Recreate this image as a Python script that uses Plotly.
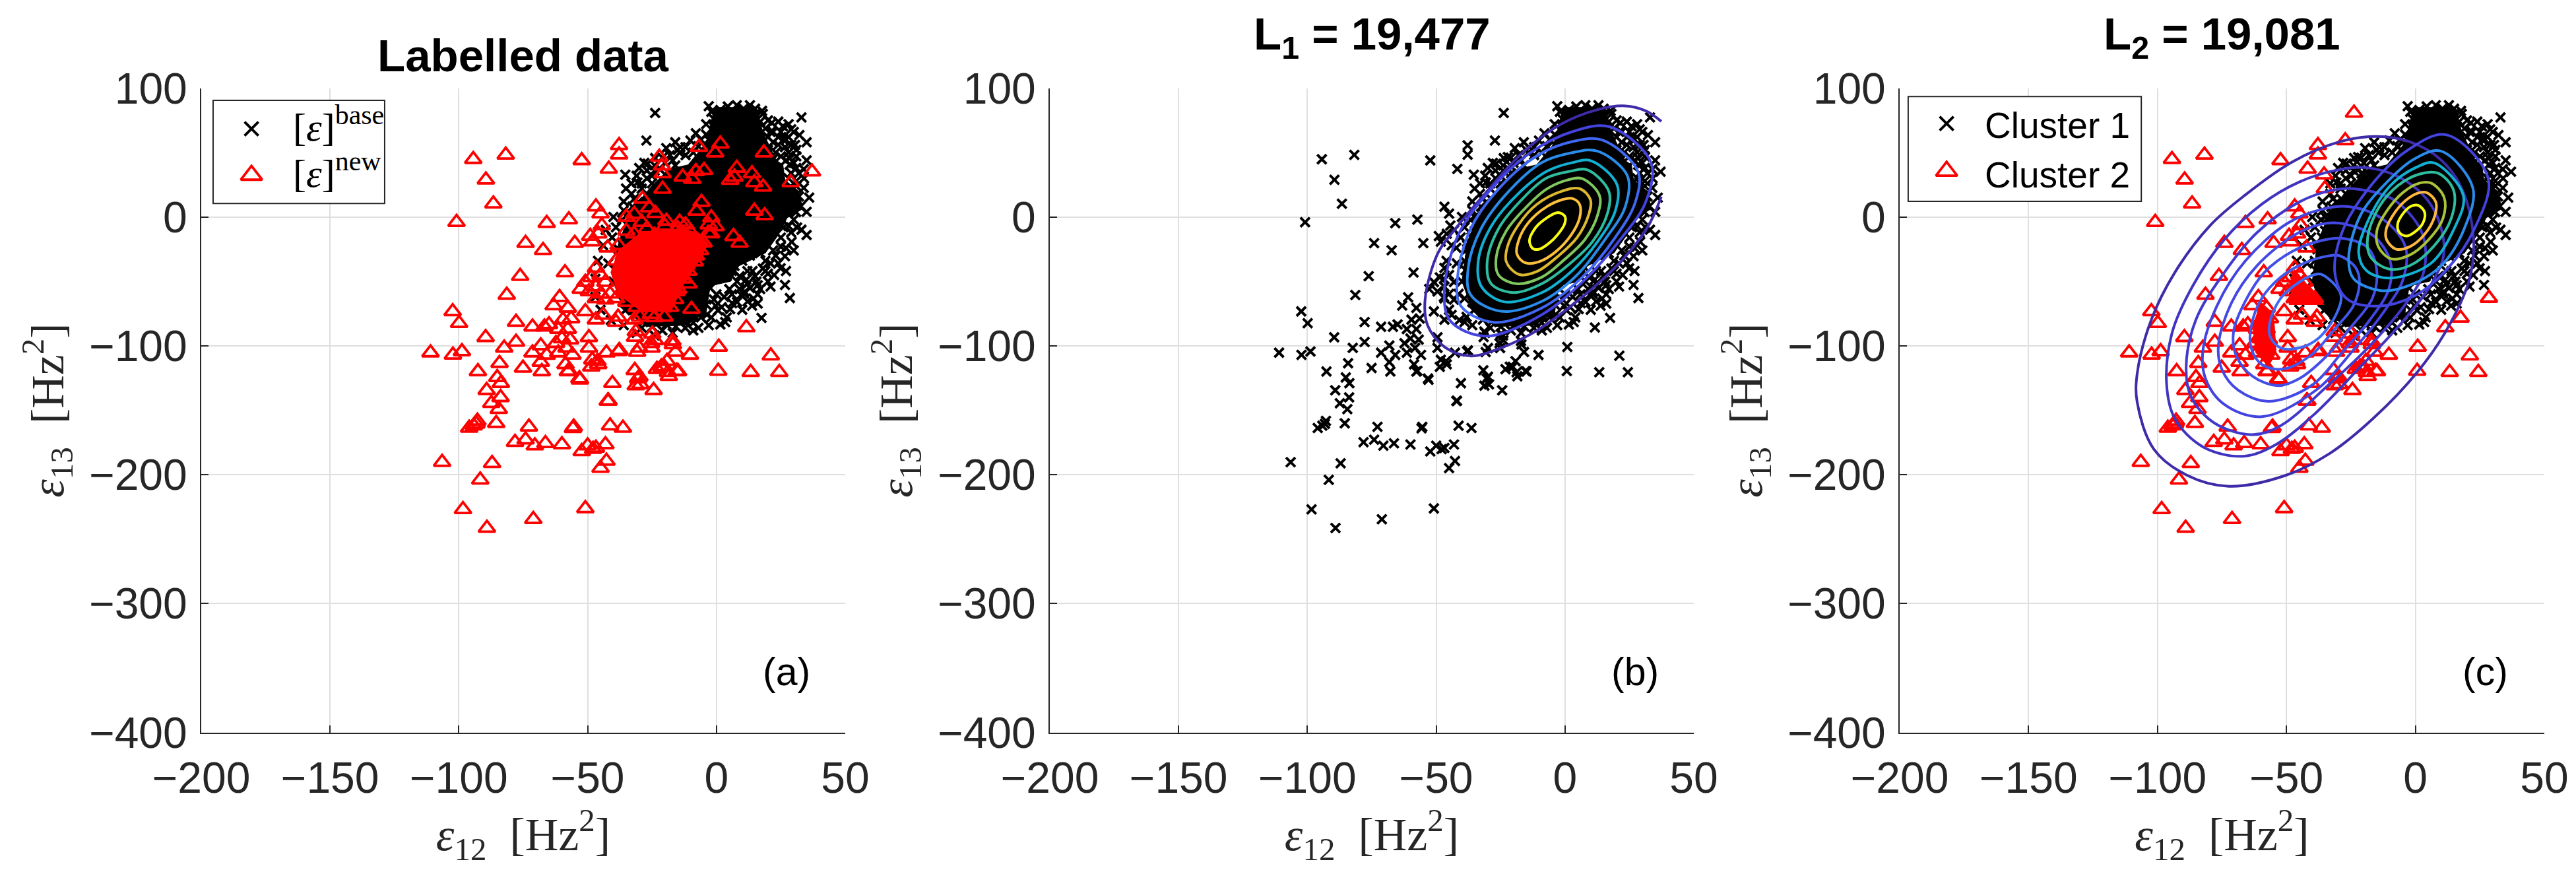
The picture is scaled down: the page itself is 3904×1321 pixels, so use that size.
import plotly.graph_objects as go

# puntos: (e12, e13)
# rojo en (a) y rojo en (c)
new_pts = [
    (-94.4, 44.8), (-81.8, 48.2), (-89.5, 28.9), (-86.6, 10.3), (-100.9, -4.1), (-52.3, 43.9), (-37.8, 55.6), (-37.8, 48.3),
    (-41.8, 37.3), (-46.8, 8), (-45, 2.6), (-44.5, -6.6), (-45.9, -13), (-49, -14.8), (-55, -20.3), (-48.2, -19.2), (-42.2, -23.9),
    (-57.3, -2), (-65.9, -4.8), (-74.1, -20.3), (-67.3, -25.8), (-76.2, -45.9), (-81.4, -60.5), (-58.8, -43.1), (-46.8, -39.5),
    (-45, -45), (-48.6, -46.8), (-43.1, -50.5), (-46.8, -54.1), (-50.9, -50.5), (-52.7, -55.9), (-49.5, -57.8), (-45, -59.6),
    (-41.3, -59.6), (-39, -63.2), (-43.1, -64.2), (-46.8, -63.2), (-50.9, -73.3), (-46.8, -79.7), (-39, -81.5), (-44, -76),
    (-60.9, -62.3), (-63.2, -68.7), (-57.7, -70.6), (-59.6, -79.7), (-56.4, -78.8), (-61.4, -87), (-57.7, -87), (-60, -94.3),
    (-56.8, -95.2), (-62.3, -98), (-58.2, -101.6), (-61.4, -105.3), (-55.9, -107), (-58.6, -114.4), (-77.8, -81.5), (-71.4, -85.2),
    (-66.8, -85.2), (-65, -83.4), (-77.8, -97), (-68.2, -99.8), (-71.4, -105.3), (-65.9, -107.1), (-68.2, -112.6), (-75.1, -117.2),
    (-67.8, -119.9), (-57.7, -119.9), (-53.2, -125.4), (-49.5, -101.6), (-48.2, -110.8), (-45.9, -114.4), (-48.6, -116.3),
    (-37.7, -103.5), (-42.7, -105.3), (-49.5, -93.4), (-31.3, -88.8), (-30.8, -104.9), (-25.4, -98), (-17.1, -96.2), (-10.3, -107.1),
    (-24.9, -90.7), (-38.2, -77.6), (-20.3, -116.3), (-23.1, -118.1), (-18.5, -123.6), (-14.9, -119.9), (-31.7, -119), (-30.4, -125.4),
    (-31.3, -130.9), (-24.4, -134.5), (-40.4, -129), (-42.2, -142.8), (-41.3, -162), (-36.3, -163.8), (-50, -177.5), (-52.3, -182),
    (-43.1, -176.6), (-46.8, -179.3), (-42.7, -189.4), (-45, -194.9), (-50.9, -226.2), (-111, -105.3), (-102.3, -107), (-98.8, -104.4),
    (-102.4, -73.3), (-99.9, -82.4), (-89.6, -93.4), (-82.4, -101.6), (-84.2, -113.5), (-92.6, -119.9), (-85.1, -124.5), (-83.7, -129),
    (-89.2, -134.5), (-87.4, -144.6), (-83.8, -140), (-84.5, -149.2), (-85.5, -160.1), (-92.8, -158.3), (-96, -163.8), (-94.2, -162),
    (-93.2, -160.5), (-72.8, -162.9), (-55.4, -162.9), (-78.2, -174.8), (-74.1, -172.9), (-70.5, -177.5), (-66.4, -175.7), (-60, -176.6),
    (-106.5, -190.3), (-87.1, -191.2), (-91.7, -204), (-98.4, -226.9), (-89.1, -241.4), (-71.1, -234.6), (-53, -126.4), (-57.3, -119.5),
    (0.9, -100.9), (0.7, -119.6), (13.3, -120.5), (21.1, -107.7), (24.4, -120.5), (11.6, -85.8), (-15.4, -119.6), (-19.2, -111.9),
    (-21.4, -116.2), (-18.8, -120.5), (-29.5, -129.9), (-29.9, -123.9), (-41.9, -142.7), (-55.7, -164), (-47.9, -180.2), (-46.2, -111.9),
    (-38, -104.3), (-31.6, -93.2), (-29.9, -101.7), (-25.2, -101.7), (-23.9, -95.7), (-15.9, -104.8), (-16.9, -99),
]
# negro en (a) y rojo en (c)
moved_pts = [(-23.8, 80.7), (-27.2, 59.3), (-35.4, 32.8), (-35.1, 22.1), (28.5, -62.9), (17.5, -78.3)]
# rojo en (a) y negro en (c)
shared_pts = [
    (-6.8, 54.2), (1.5, 56.8), (-0.5, 49.9), (18.4, 49.9), (-22.2, 46.5), (-21.1, 39.7), (-20.9, 33.7), (-20.9, 21.7), (-13.1, 31.1),
    (-8, 35.4), (-9.4, 29.4), (-4.8, 36.3), (7.9, 38), (7, 31.1), (5.3, 28.6), (13.8, 33.7), (14.7, 26.8), (18.1, 23.4), (37.1, 35.1),
    (28.8, 26.8), (-28.7, 14), (-26.1, 7.2), (-5.8, 11.5), (-7.7, 4.6), (14.7, 4.6), (18.7, 1.2), (-14.3, -3.9), (-19.4, -3.1),
    (-23.7, 2.9), (-2, -0.5), (-0.3, -7.4), (6.6, -15), (9, -20.2), (-3.2, -12.5), (-6.7, -19.3), (-8.4, -34.7), (-10.9, -51.8),
    (-9.7, -71.5), (-15.6, -57.8), (-35, 0), (-31.9, 2.2), (-35, -10.8), (-31.9, -79.7), (-29.7, -77.6), (-25.5, -75.4), (-20.2, -77.6),
    (-21.2, -66.8), (-14.9, -56), (-6.4, -25.9), (-2.1, -12.9), (-30, -20), (-26, -32), (-33, -38), (-22, -48), (-30, -55), (-18, -30),
    (-12, -22), (-24, -14), (-34, -28), (-27, -62), (-18, -44), (-14, -36),
    (-38, -22), (-36, -30), (-39, -34), (-37, -44), (-36, -52), (-33, -60), (-35, -66), (-31, -70), (-26, -70), (-24, -78), (-18, -70),
    (-16, -64), (-13, -48), (-11, -42), (-8, -30), (-5, -20), (-10, -12), (-15, -9), (-20, -7), (-27, -9), (-32, -13), (-29, -4),
    (-24, -20), (-17, -18), (-11, -30), (-20, -38), (-28, -44), (-24, -56), (-19, -60), (-32, -30), (-3, -6), (-12, -6),
]
# negro en (a) y en (c)
base_pts = [
    (-19.5, 53.4), (-10.1, 59.3), (-14.3, 49.9), (-12, 54.2), (-2, 81.6), (1.5, 83), (4.4, 85.8), (7.9, 86.7), (10.5, 84), (13, 86.7),
    (15, 84), (17.7, 82.4), (33, 77.3), (21.5, 73), (25.8, 70.4), (32.2, 63.6), (19, 68.7), (26.6, 54.2), (30.5, 55.9), (28.4, 45.7),
    (28.4, 40.5), (33.9, 37.1), (33.9, 22.6), (32.6, 8), (30.9, 3.8), (33, -9.9), (31.3, -8.2), (29.2, -19.3), (26.6, -30.4),
    (24.9, -39.8), (22.4, -45), (26.6, -52.7), (15.5, -50.1), (13, -55.2), (16, -67.2), (13.8, -68.9), (12.1, -65.5), (9.6, -60.4),
    (5.3, -71.5), (-0.3, -68.9), (-3.7, -75.8), (1.5, -83.4), (-2.4, -55.2), (-26.7, 41.4), (-23.8, 45.7), (-14, 54.2), (-30.7, 26.8),
    (-32.6, 8), (-36.6, -2.2), (-40.5, -15.9), (-38, -25), (-34, -56), (-32.2, -68.7), (-28.5, -81.5), (-31.3, -76), (-35.4, -72.4),
    (-38.6, -41.3), (-36.3, -15.7), (-34, -1.1), (-30.4, 11.7), (-24.9, -85.2), (-15.8, -85), (-12.1, -86.1), (-19.4, -83.4), (3.4, -81.5),
    (0.6, -72.4), (6.1, -66.9), (10.7, -59.6), (14.4, -63.2), (11.6, -48.6), (17, -55.9), (20, -50), (25, -23), (28, -7), (30, 12),
    (31, 28), (27, 60), (24, 62), (20, 75), (30, 66), (22, 45), (-8, 65), (-4, 72), (-6, 60), (-17, 44), (-22, 37), (-27, 30), (-33, 18),
    (-1, 76), (3, 80), (6, 82), (12, 80), (17, 74), (28, 50), (32, 16), (24, -36), (19, -42), (8, -66), (-6, -78), (-9, -82), (-21, -88),
    (-29, -86), (-36, -66), (-40, -50), (-42, -36), (-39, -8), (-29, 22), (-25, 32), (-20, 42), (-12, 48), (-4, 64),
    (-16, 58), (-24, 36), (-28, 42), (-31, 32), (-36, 12), (-40, 0), (-43, -10), (-44, -22), (-46, -34), (-47, -48), (-47, -62), (-45, -72),
    (-41, -80), (-36, -84), (-31, -90), (-24, -92), (-17, -90), (-9, -88), (-3, -84), (4, -78), (10, -72), (16, -60), (21, -54), (27, -42),
    (30, -26), (35, -14), (35, 4), (36, 15), (34, 30), (35, 44), (31, 47), (35, 58), (28, 72), (24, 74), (22, 66), (18, 80), (-3, 86), (-1, 70),
    (6, -42), (9, -46), (12, -42), (15, -46), (18, -40), (21, -36), (23, -30), (20, -44), (16, -53), (12, -52), (8, -50), (5, -56), (9, -56),
    (3, -62), (6, -60), (0, -60), (-1, -64), (2, -70), (11, -58), (19, -34), (22, -26), (27, -24), (25, -16), (29, -12), (26, -8), (30, -2),
    (-2, -78), (-4, -68), (-7, -86), (14, -42), (4, -46), (7, -38), (10, -34), (13, -30), (17, -28),
    (20, 62), (22, 58), (24, 56), (20, 52), (23, 50), (25, 47), (27, 44), (21, 66), (25, 66), (28, 62), (29, 56), (31, 52), (30, 42), (31, 38),
    (29, 34), (32, 34), (28, 30), (31, 24), (29, 68), (26, 60),
    (-30, 38), (-27, 36), (-24, 40), (-21, 46), (-18, 48), (-15, 52), (-25, 26), (-29, 26), (-33, 26), (-32, 14), (-36, 5), (-9, 50), (-7, 55),
    (-16, 40), (-3, 60),
]

# zonas de sobreposicion total (contornos de las manchas)
dense_black = [
    (-0.7, 85), (15.5, 85), (16.8, 74.7), (18, 66), (23.2, 44), (25.8, 40.5), (26.6, 28.6), (32, 20), (33.5, 6.3), (27.5, -0.5), (24, -14),
    (19, -27.9), (8.7, -38), (5.3, -50), (-2.4, -53.5), (-4, -74), (-11.8, -84), (-27, -85), (-36, -72), (-40, -50), (-38, -20), (-33, 5),
    (-26, 22), (-18.6, 37), (-11, 40.5), (-4, 57.6),
]
dense_red = [
    (-38, -26), (-30, -13), (-14, -9), (-6.7, -12.5), (-3.2, -21), (-8.4, -40), (-12.7, -52), (-17.8, -74), (-30, -72), (-38, -60), (-41, -43),
]
dense_red_c1 = [(-46.8, -41), (-35.5, -68), (-49, -68)]
dense_red_c2 = [(-60, -66), (-55, -75), (-54, -105), (-57, -116), (-62, -105), (-63, -85)]

# curvas de nivel, panel (b), de afuera hacia adentro
b_level_open = [
    (37.4, 15.7), (32.2, -7.4), (22.4, -33), (7.7, -60.4), (-12, -89.4), (-26.7, -103), (-36.6, -107.9), (-46.4, -101.4), (-53.3, -84.3),
    (-54.3, -63.8), (-49.3, -27.9), (-42.5, -9.1), (-31.7, 16.6), (-16.9, 49.1), (-2.2, 71.3), (12.6, 83.3), (23.4, 86.2), (31.3, 82.4), (37.4, 74.2),
]
b_levels = [
    [(17.5, 69.9), (33.4, 42.2), (31.3, 11.5), (21.4, -17.6), (8.7, -46.7), (-9, -75.8), (-30.7, -92.5), (-44.4, -80.9), (-46.9, -60.4), (-41.5, -14.2), (-28.7, 21.7), (-14, 49.1), (2.8, 66.2)],
    [(14.5, 59.7), (28.3, 35.4), (27.3, 11.5), (19.5, -15.9), (6.7, -46.7), (-9, -70.6), (-27.7, -81.7), (-40.5, -68.9), (-41.7, -46.7), (-36.6, -9.1), (-25.8, 21.7), (-11, 47.4), (2.8, 58.5)],
    [(12.6, 51.1), (24.2, 32), (23.4, 8), (15.5, -17.6), (4.7, -45), (-9, -65.5), (-24.8, -73.2), (-36.6, -60.4), (-37.6, -39.8), (-32.6, -9.1), (-21.8, 20), (-9, 42.2), (2.8, 49.9)],
    [(10.1, 43.6), (20.2, 25.1), (19.5, 4.6), (12.6, -19.3), (2.8, -41.6), (-9, -58.7), (-23.8, -65.8), (-32.6, -53.5), (-33.6, -33), (-28.7, -7.4), (-18.9, 16.6), (-7.1, 35.4), (2.8, 42.2)],
    [(8.7, 36.6), (17, 20), (16.5, 2.9), (10.6, -19.3), (1.8, -36.4), (-9, -51.8), (-19.9, -58.7), (-28.7, -51.8), (-30.2, -34.7), (-25.8, -9.1), (-16.9, 13.2), (-7.1, 30.3), (1.8, 35.4)],
    [(6.7, 29.8), (13.4, 16.6), (12.6, 1.2), (7.7, -17.6), (-0.2, -33), (-9, -46.7), (-18.9, -51.8), (-25.8, -45), (-26.7, -31.3), (-22.8, -10.8), (-14.9, 8), (-7.1, 21.7), (0.8, 28.6)],
    [(5.7, 22), (9.9, 13.2), (9.1, 1.2), (4.7, -15.9), (-2.2, -29.6), (-11, -42.4), (-17.9, -44.6), (-22.8, -34.7), (-22.3, -22.7), (-17.9, -5.6), (-11, 9.7), (-1.2, 20)],
    [(2.8, 14.4), (5.7, 9.7), (5.7, -0.5), (2.3, -14.2), (-3.6, -27), (-10, -34.7), (-15.4, -35.6), (-18.7, -28.7), (-17.9, -17.6), (-14, -3.9), (-7.1, 8), (-0.7, 13.7)],
    [(-2.7, 3.4), (0, 0.3), (-0.2, -5.6), (-2.7, -13.3), (-6.1, -20.2), (-10, -25), (-12.5, -24.5), (-13.8, -18.5), (-12, -9.9), (-8.1, -2.2)],
]

# curvas de nivel, panel (c): cluster 2 (afuera hacia adentro) y cluster 1
c_levels_2 = [
    [(-14.9, 62.5), (-2.1, 58.3), (9.8, 44.6), (18, 22), (22.5, -15), (21, -48), (12, -88), (0.9, -120), (-16.2, -156), (-33.3, -183.6), (-50.4, -200.6), (-72.3, -209), (-88.7, -200.3), (-101.5, -180), (-107.9, -143.7), (-107.9, -121.7), (-102.4, -79.7), (-93.3, -43.1), (-79.6, -6.6), (-65.9, 17.2), (-47.7, 42.8), (-29.5, 58.3)],
    [(-18.5, 38.2), (-3.9, 28.2), (7, 6.2), (11.1, -26.7), (6.1, -52.3), (-6.7, -85.2), (-22.2, -118.1), (-38.6, -152), (-54.1, -176.6), (-66.8, -185.7), (-82.4, -178.4), (-93.3, -156.5), (-96.5, -129.1), (-94.2, -88.8), (-86, -52.3), (-74.1, -17.5), (-59.6, 9.9), (-45, 27.2), (-30.4, 36.4)],
    [(-23.1, 21.8), (-8.5, 13.5), (2.5, -12.1), (3.4, -41.3), (-3, -65.1), (-17.6, -99.8), (-34, -130.9), (-52.3, -162), (-63.2, -168.9), (-77.8, -160.1), (-86.9, -140), (-88.9, -116.3), (-85.1, -79.7), (-74.1, -43.1), (-61.4, -12.1), (-45, 11.7), (-32.2, 20.8)],
    [(-25.8, 8), (-13, -1.1), (-3.9, -23), (-4.8, -48.6), (-11.2, -70.6), (-24.9, -105.3), (-38.6, -134.5), (-59.6, -155), (-74.1, -145.5), (-81.4, -125.4), (-82.4, -103.5), (-76.9, -68.7), (-65.9, -34), (-49.5, -4.8), (-35.8, 6.2)],
    [(-29.5, -4.8), (-16.7, -13.9), (-9.8, -34), (-10.3, -55.9), (-17.6, -79.7), (-28.5, -105.3), (-40.4, -130.9), (-56.8, -143.1), (-68.7, -134.5), (-75.1, -118.1), (-76.4, -99.8), (-71.4, -66.9), (-61.4, -37.7), (-46.8, -13.9), (-36.8, -5.7)],
    [(-28.5, -16.6), (-18.5, -23.9), (-15, -41.3), (-16.7, -63.2), (-24.9, -85.2), (-34.9, -108.9), (-45, -125.4), (-53.2, -130.9), (-63.2, -123.6), (-69.6, -107.1), (-70.5, -88.8), (-65.9, -65.1), (-58.6, -43.1), (-47.7, -26.7), (-36.8, -18.5)],
    [(-29.5, -30), (-23.1, -39.5), (-21.7, -50.5), (-24, -68.7), (-31.3, -87), (-40.4, -107.1), (-51.3, -118), (-59.6, -114.4), (-63.7, -101.6), (-63.7, -85.2), (-59.6, -63.2), (-52.3, -46.8), (-43.1, -35.8), (-34, -30.3)],
    [(-36.3, -44.6), (-29, -59.6), (-30.4, -74.2), (-37.7, -94.3), (-45, -101.6), (-52.3, -101.6), (-56.4, -92.5), (-56.4, -81.5), (-52.3, -63.2), (-45, -50.5), (-39.5, -45)],
]
c_levels_1 = [
    [(11.9, 63.8), (28.2, 30.2), (23, -8.8), (12.5, -40), (-0.5, -61.4), (-14.9, -69.2), (-26.6, -63.4), (-31.2, -43.9), (-28.6, -12.7), (-18.8, 20.5), (-3.1, 51.7)],
    [(9.9, 51.1), (22.3, 22.4), (19, -8.8), (9.9, -38), (-3.1, -53.6), (-13.6, -57.1), (-24, -47.8), (-25.9, -32.2), (-21.4, 1), (-12.3, 24.4), (-0.5, 44.9)],
    [(7.3, 41.9), (18.6, 16.6), (15.1, -8.8), (6, -36), (-9.7, -47.4), (-18.8, -41.9), (-22, -28), (-18.8, -4.9), (-9.7, 24.4), (0.8, 39)],
    [(8.8, 34), (14.8, 20.8), (13.9, -1.1), (7, -23), (-2.1, -37.7), (-10.3, -40.4), (-17.6, -30.3), (-18.5, -15.7), (-14, 8), (-6.7, 24.5), (1.6, 33.3)],
    [(6.1, 26.3), (11.1, 15.4), (10.7, -1.1), (5.2, -17.5), (-2.1, -29.4), (-9.4, -32.5), (-14.4, -23), (-14.9, -10.2), (-11.2, 4.4), (-4.8, 19), (1.6, 26.3)],
    [(4.3, 19), (7.9, 11.7), (7.5, 0.7), (3.4, -13.9), (-2.1, -23), (-7.6, -24.9), (-11.2, -17.5), (-11.4, -10.2), (-8.9, 0.7), (-3.9, 12.6), (1.1, 18.6)],
    [(1.1, 9), (3.6, 3.5), (2.9, -4.8), (-0.3, -11.7), (-3.5, -14.8), (-6.2, -12.1), (-6.9, -5.7), (-4.8, 2.6), (-1.6, 8.4)],
]

x_ticks = [-200, -150, -100, -50, 0, 50]
y_ticks = [-400, -300, -200, -100, 0, 100]
titulos = ["<b>Labelled data</b>", "<b>L<sub>1</sub> = 19,477</b>", "<b>L<sub>2</sub> = 19,081</b>"]
letras = ["(a)", "(b)", "(c)"]

ANCHO, ALTO = 3904, 1321
PANELES = [(305, 1281), (1591, 2567), (2879, 3856)]
COLORES_B = ["#4343df", "#3f68f3", "#2a8cea", "#12b1d3", "#2fbd9f", "#7fc85f", "#dcb92e", "#fcc03a", "#f9fb15"]
COLORES_C2 = ["#3d2ba8", "#4033c0", "#4138cc", "#4343df", "#4348e4", "#434ee8", "#4158ec", "#3f68f3"]
COLORES_C1 = ["#4343df", "#2a8cea", "#12b1d3", "#2fbd9f", "#a8c23c", "#fdb93f", "#f9fb15"]
TEXTO = "#262626"
SERIF = "Liberation Serif"
SANS = "Liberation Sans"


def puntos(fig, pts, n, tipo, size=14):
    if tipo == "x":
        marker = dict(symbol="x-thin", size=size, color="black", line=dict(color="black", width=4))
    else:
        marker = dict(symbol="triangle-up-open", size=size, color="red", line=dict(color="red", width=3.8))
    fig.add_trace(go.Scatter(
        x=[p[0] for p in pts], y=[p[1] for p in pts], mode="markers", marker=marker,
        xaxis=f"x{n}", yaxis=f"y{n}", showlegend=False, hoverinfo="skip",
    ))


def mancha(fig, pts, n, color):
    fig.add_trace(go.Scatter(
        x=[p[0] for p in pts] + [pts[0][0]], y=[p[1] for p in pts] + [pts[0][1]],
        mode="lines", fill="toself", fillcolor=color, line=dict(color=color, width=1),
        xaxis=f"x{n}", yaxis=f"y{n}", showlegend=False, hoverinfo="skip",
    ))


def curva(fig, pts, n, color, cerrar=True):
    pts = pts + [pts[0]] if cerrar else pts
    fig.add_trace(go.Scatter(
        x=[p[0] for p in pts], y=[p[1] for p in pts], mode="lines",
        line=dict(color=color, width=4, shape="spline", smoothing=1),
        xaxis=f"x{n}", yaxis=f"y{n}", showlegend=False, hoverinfo="skip",
    ))


fig = go.Figure()

# ── (a) ──
mancha(fig, dense_black, 1, "black")
puntos(fig, base_pts + moved_pts, 1, "x")
mancha(fig, dense_red, 1, "red")
puntos(fig, new_pts + shared_pts, 1, "t", 22)

# ── (b) ──
mancha(fig, dense_black, 2, "black")
puntos(fig, base_pts + moved_pts + new_pts + shared_pts, 2, "x")
curva(fig, b_level_open, 2, "#3d2ba8", cerrar=False)
for nivel, color in zip(b_levels, COLORES_B):
    curva(fig, nivel, 2, color)

# ── (c) ──
mancha(fig, dense_black, 3, "black")
puntos(fig, base_pts + shared_pts, 3, "x")
mancha(fig, dense_red_c1, 3, "red")
mancha(fig, dense_red_c2, 3, "red")
puntos(fig, new_pts + moved_pts, 3, "t", 22)
for nivel, color in zip(c_levels_2, COLORES_C2):
    curva(fig, nivel, 3, color)
for nivel, color in zip(c_levels_1, COLORES_C1):
    curva(fig, nivel, 3, color)

# simbolos de las leyendas, mas grandes que los puntos
puntos(fig, [(-180.5, 68.4)], 1, "x", 21)
puntos(fig, [(-180.5, 32.5)], 1, "t", 28)
puntos(fig, [(-181.8, 72.5)], 3, "x", 21)
puntos(fig, [(-181.8, 35.6)], 3, "t", 28)

layout = dict(
    width=ANCHO, height=ALTO, margin=dict(l=0, r=0, t=0, b=0),
    paper_bgcolor="white", plot_bgcolor="white", showlegend=False,
)
anotaciones = []
formas = []
eje_x = "<i>ε</i><sub>12</sub>  [Hz<sup>2</sup>]"
eje_y = "<i>ε</i><sub>13</sub>  [Hz<sup>2</sup>]"
for i, (izq, der) in enumerate(PANELES):
    n = i + 1
    sufijo = "" if n == 1 else str(n)
    comun = dict(
        showline=True, linecolor=TEXTO, linewidth=2, mirror=False, zeroline=False,
        showgrid=True, gridcolor="#dfdfdf", gridwidth=2, automargin=False,
        ticks="inside", ticklen=11, tickwidth=2, tickcolor=TEXTO,
        tickfont=dict(family=SANS, size=66, color=TEXTO),
    )
    layout["xaxis" + sufijo] = dict(
        comun, domain=[izq / ANCHO, der / ANCHO], range=[-200, 50], tickvals=x_ticks,
        anchor="y" + sufijo, ticklabelstandoff=10,
        title=dict(text=eje_x, font=dict(family=SERIF, size=70, color=TEXTO), standoff=0),
    )
    layout["yaxis" + sufijo] = dict(
        comun, domain=[1 - 1109.5 / ALTO, 1 - 133.5 / ALTO], range=[-400, 100], tickvals=y_ticks,
        anchor="x" + sufijo, ticklabelstandoff=6,
        title=dict(text=eje_y, font=dict(family=SERIF, size=70, color=TEXTO), standoff=16),
    )
    anotaciones.append(dict(
        text=titulos[i], xref="paper", yref="paper", x=(izq + der) / 2 / ANCHO,
        y=1 - (84 if i == 0 else 56) / ALTO, showarrow=False, xanchor="center", yanchor="middle",
        font=dict(family=SANS, size=69, color="black"),
    ))
    anotaciones.append(dict(
        text=letras[i], xref=f"x{sufijo}", yref=f"y{sufijo}", x=27.2, y=-353, showarrow=False,
        font=dict(family=SANS, size=59, color="black"),
    ))

# recuadro de las leyendas
for n, x0, x1, y0, y1 in [("", -195.4, -128.8, 10.5, 90.5), ("3", -196.7, -106.3, 12.1, 93.5)]:
    formas.append(dict(
        type="rect", xref="x" + n, yref="y" + n, x0=x0, x1=x1, y0=y0, y1=y1, layer="between",
        line=dict(color=TEXTO, width=2), fillcolor="white",
    ))
for txt, y in [("[<i>ε</i>]<sup>base</sup>", 72), ("[<i>ε</i>]<sup>new</sup>", 36)]:
    anotaciones.append(dict(
        text=txt, xref="x", yref="y", x=-164.9, y=y, showarrow=False, xanchor="left", yanchor="middle",
        font=dict(family=SERIF, size=60, color="black"),
    ))
for txt, y in [("Cluster 1", 71), ("Cluster 2", 32.6)]:
    anotaciones.append(dict(
        text=txt, xref="x3", yref="y3", x=-167.5, y=y, showarrow=False, xanchor="left", yanchor="middle",
        font=dict(family=SANS, size=55, color="black"),
    ))

fig.update_layout(**layout)
fig.update_layout(annotations=anotaciones, shapes=formas)

fig.write_html("out.html", config=dict(displayModeBar=False), post_script="document.body.style.margin='0';")
